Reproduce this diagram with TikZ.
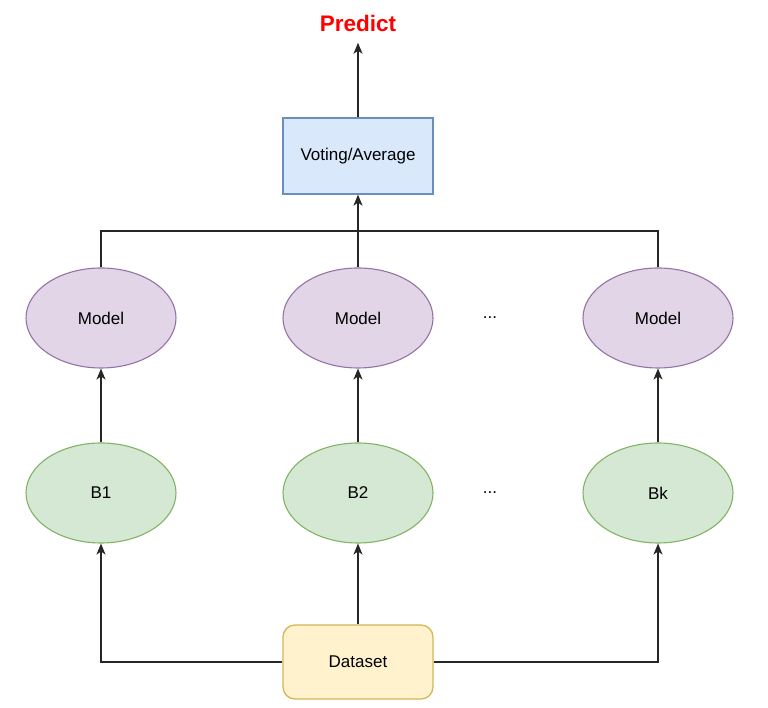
\documentclass[tikz,border=0pt]{standalone}
\usepackage{fontspec}
\setmainfont{Liberation Sans}
\usetikzlibrary{shapes.geometric, arrows.meta, positioning}
\definecolor{voteblue}{HTML}{DAE8FC}
\definecolor{voteedge}{HTML}{6C8EBF}
\definecolor{modelpurple}{HTML}{E1D5E7}
\definecolor{modeledge}{HTML}{9673A6}
\definecolor{baggreen}{HTML}{D5E8D4}
\definecolor{bagedge}{HTML}{82B366}
\definecolor{datayellow}{HTML}{FFF2CC}
\definecolor{dataedge}{HTML}{D6B656}
\tikzset{
    votebox/.style = {rectangle, draw=voteedge, fill=voteblue, line width=1.3pt,
                      minimum width=150pt, minimum height=76pt, inner sep=0pt},
    modelnode/.style = {ellipse, draw=modeledge, fill=modelpurple, line width=1.1pt,
                      minimum width=150pt, minimum height=100pt, inner sep=0pt},
    bagnode/.style = {ellipse, draw=bagedge, fill=baggreen, line width=1.1pt,
                      minimum width=150pt, minimum height=100pt, inner sep=0pt},
    databox/.style = {rectangle, rounded corners=12pt, draw=dataedge, fill=datayellow, line width=1.3pt,
                      minimum width=150pt, minimum height=74pt, inner sep=0pt},
    predict/.style = {text=red, font=\fontsize{22.5pt}{26pt}\selectfont\bfseries},
    arrow/.style = {line width=1.3pt, draw=black!85, -{Stealth[length=11pt,width=9pt,inset=3pt]}},
    bus/.style = {line width=1.3pt, draw=black!85},
}

\begin{document}
\begin{tikzpicture}[x=1pt, y=1pt, node distance=170pt,
    every node/.append style={font=\fontsize{17pt}{20pt}\selectfont}]
\useasboundingbox (0,0) rectangle (768,708);
\node (data) [databox] at (358,46) {Dataset};
\node (b2) [bagnode, above of=data, yshift=-1pt] {B2};
\node (b1) [bagnode, left of=b2, xshift=-87pt] {B1};
\node (bk) [bagnode, right of=b2, xshift=130pt] {Bk};
\node (bdots) [right of=b2, xshift=-38pt] {...};
\node (m2) [modelnode, above of=b2, yshift=5pt] {Model};
\node (m1) [modelnode, above of=b1, yshift=5pt] {Model};
\node (mk) [modelnode, above of=bk, yshift=5pt] {Model};
\node (mdots) [right of=m2, xshift=-38pt] {...};
\node (vote) [votebox, above of=m2, yshift=-8pt] {Voting/Average};
\node (pred) [predict, above of=vote, yshift=-37pt] {Predict};
\coordinate (join) at (358,477);

% Arrows
\draw[arrow] (data) -| (b1);
\draw[arrow] (data) -- (b2);
\draw[arrow] (data) -| (bk);
\draw[arrow] (b1) -- (m1);
\draw[arrow] (b2) -- (m2);
\draw[arrow] (bk) -- (mk);
\draw[bus] (m1.north) |- (join) -| (mk.north);
\draw[arrow] (m2) -- (vote);
\draw[arrow] (vote) -- ([yshift=-8pt]pred.south);
\end{tikzpicture}
\end{document}
